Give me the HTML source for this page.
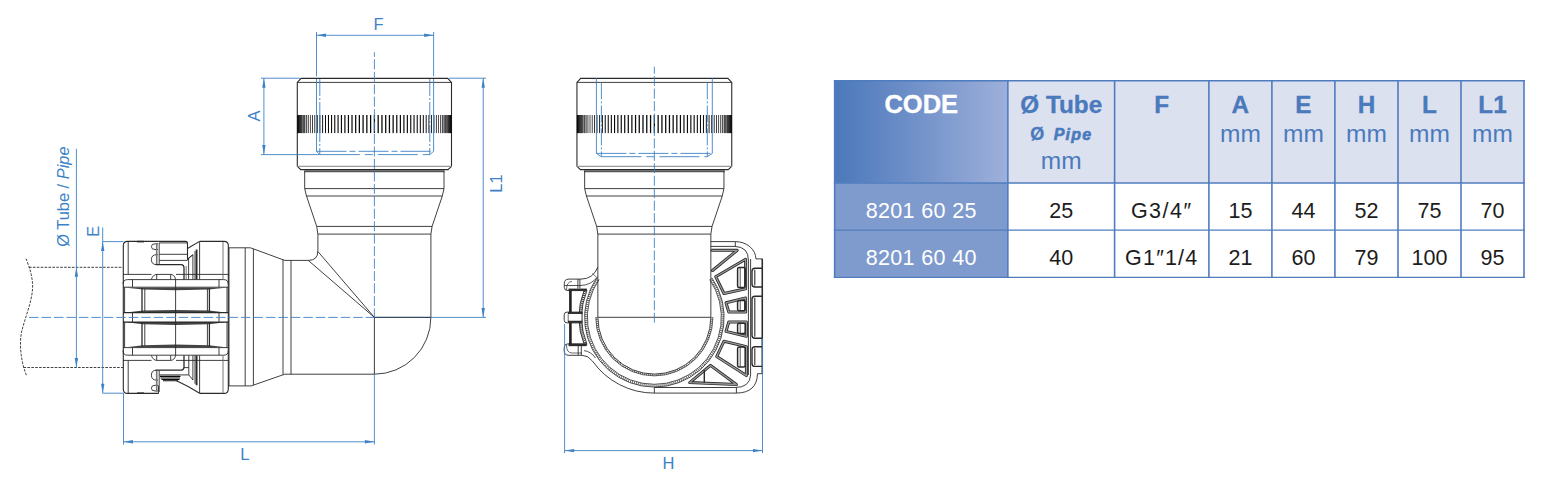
<!DOCTYPE html>
<html><head><meta charset="utf-8"><title>8201 60</title>
<style>
html,body{margin:0;padding:0;background:#fff}
body{width:1544px;height:482px;position:relative;overflow:hidden;font-family:"Liberation Sans",sans-serif}
.t{position:absolute;text-align:center;white-space:nowrap;line-height:28px;height:28px}
.h1{font-weight:bold;font-size:24.3px;color:#4a7abc;-webkit-text-stroke:0.35px}
.h2{font-weight:bold;font-size:16px;color:#4a7abc}
.h2 .o{font-size:18px;-webkit-text-stroke:0.3px #4a7abc}
.h2 .p{font-style:italic;letter-spacing:1.2px;margin-left:9.5px;-webkit-text-stroke:0.6px #4a7abc}
.mm{font-size:24.5px;color:#4a7abc}
.d{font-size:21.5px;color:#1c1c1c}
</style></head><body>
<svg width="830" height="482" viewBox="0 0 830 482" style="position:absolute;left:0;top:0">
<defs>
<linearGradient id="kl" x1="0" x2="1" y1="0" y2="0"><stop offset="0" stop-color="#000" stop-opacity="1"/><stop offset="0.2" stop-color="#000" stop-opacity="0.75"/><stop offset="1" stop-color="#000" stop-opacity="0"/></linearGradient>
<linearGradient id="kr" x1="1" x2="0" y1="0" y2="0"><stop offset="0" stop-color="#000" stop-opacity="1"/><stop offset="0.2" stop-color="#000" stop-opacity="0.75"/><stop offset="1" stop-color="#000" stop-opacity="0"/></linearGradient>
<g id="neck">
<path d="M304.7,171 V188.6 L306.5,196 L316.7,226.4 L317.9,234.1"/>
<path d="M444,171 V188.6 L442.3,196 L432.1,226.4 L430.9,234.1"/>
<line x1="304.7" y1="188.6" x2="444" y2="188.6"/>
<line x1="306.5" y1="196" x2="442.3" y2="196"/>
<line x1="316.7" y1="226.4" x2="432.1" y2="226.4"/>
<line x1="317.9" y1="234.1" x2="430.9" y2="234.1"/>
</g>
<g id="half">
<path d="M123.3,317.6 V245.6 Q123.3,241.4 127.5,241.4 H158.7 M199.6,241.4 H224.1 Q228.3,241.4 228.3,245.6 V317.6" stroke-width="1.1"/>
<line x1="128.2" y1="241.6" x2="128.2" y2="274.4"/>
<line x1="137" y1="241.6" x2="144" y2="241.6" stroke-width="1.6"/>
<path d="M123,274.4 H151.5 M176,274.4 H228.3"/>
<path d="M151.4,279.4 Q153,274.4 157,274.4 H170.5 Q174.5,274.4 175.6,279.4" />
<line x1="156.7" y1="274.4" x2="156.7" y2="279.4"/><line x1="170.7" y1="274.4" x2="170.7" y2="279.4"/>
<path d="M123,284.2 Q123,279.6 127.6,279.6 H223.7 Q228.3,279.6 228.3,284.2"/>
<line x1="132.5" y1="279.6" x2="132.5" y2="287.2"/><line x1="219" y1="279.6" x2="219" y2="287.2"/>
<line x1="123" y1="287.2" x2="228.3" y2="287.2"/>
<path d="M124,287.4 H227.5 L209,289.6 L175.6,290.3 L143,289.6 Z" fill="#444" stroke="none"/>
<path d="M124,312.8 H227.5 L209,310.6 L175.6,309.9 L143,310.6 Z" fill="#444" stroke="none"/>
<line x1="124.6" y1="287.2" x2="124.6" y2="313"/><line x1="227" y1="287.2" x2="227" y2="313"/>
<line x1="142" y1="288" x2="142" y2="312.5" stroke-width="1.3"/><line x1="144.8" y1="289" x2="144.8" y2="311"/>
<line x1="207.4" y1="289" x2="207.4" y2="311"/><line x1="209.4" y1="288" x2="209.4" y2="312.5" stroke-width="1.3"/>
<line x1="123" y1="312.6" x2="228.3" y2="312.6" stroke-width="1.2"/>
<line x1="132.5" y1="313" x2="132.5" y2="317.4"/><line x1="219" y1="313" x2="219" y2="317.4"/>
<line x1="175.6" y1="279.4" x2="175.6" y2="317.4"/>
<!-- slots -->
<path d="M158,243.8 H155 Q151.4,243.8 151.4,246.6 Q151.4,249.5 155,249.5 H158"/>
<path d="M158,254.7 H156.5 Q151.4,254.7 151.4,259.6 Q151.4,264.6 156.5,264.6"/>
<line x1="156.7" y1="243.5" x2="156.7" y2="264.5" stroke="#777" stroke-width="1.6"/><line x1="159.2" y1="242.8" x2="159.2" y2="264.5"/>
<path d="M155.6,264.6 H181 Q184,264.6 184,268 V279.4" stroke-width="1.3"/>
<line x1="192.9" y1="254.7" x2="192.9" y2="279.4"/>
<line x1="195" y1="251" x2="195" y2="279.4"/>
<line x1="196.6" y1="249.5" x2="196.6" y2="279.4" stroke-width="1.8"/>
<line x1="199.6" y1="241.6" x2="199.6" y2="279.4"/>
<line x1="223" y1="242" x2="223" y2="279.4" stroke="#666"/>
</g>
<path id="ah" d="M0,0 L-1.7,9.5 L1.7,9.5 Z" fill="#3d82c6" stroke="none"/>
</defs>
<g fill="none" stroke="#2a2a2a" stroke-width="0.9" stroke-linecap="butt">
<!-- ===== VIEW 1 ===== -->
<path d="M301.09999999999997,78.4 H447.7 L451.5,82.4 V166.3 L448.0,169.6 H300.79999999999995 L297.29999999999995,166.3 V82.4 Z" stroke-width="1.1"/><line x1="297.29999999999995" y1="82.4" x2="451.5" y2="82.4"/><line x1="297.29999999999995" y1="166.4" x2="451.5" y2="166.4" stroke="#999" stroke-width="1.4"/><line x1="304.29999999999995" y1="171.2" x2="444.5" y2="171.2" stroke="#555" stroke-width="2"/><g fill="#0a0a0a" stroke="none"><rect x="297.30" y="115.0" width="0.05" height="18.099999999999994"/><rect x="297.36" y="115.0" width="0.06" height="18.099999999999994"/><rect x="297.61" y="115.0" width="0.13" height="18.099999999999994"/><rect x="298.04" y="115.0" width="0.19" height="18.099999999999994"/><rect x="298.66" y="115.0" width="0.25" height="18.099999999999994"/><rect x="299.46" y="115.0" width="0.31" height="18.099999999999994"/><rect x="300.44" y="115.0" width="0.37" height="18.099999999999994"/><rect x="301.59" y="115.0" width="0.43" height="18.099999999999994"/><rect x="302.93" y="115.0" width="0.49" height="18.099999999999994"/><rect x="304.43" y="115.0" width="0.55" height="18.099999999999994"/><rect x="306.10" y="115.0" width="0.61" height="18.099999999999994"/><rect x="307.94" y="115.0" width="0.66" height="18.099999999999994"/><rect x="309.94" y="115.0" width="0.71" height="18.099999999999994"/><rect x="312.09" y="115.0" width="0.77" height="18.099999999999994"/><rect x="314.39" y="115.0" width="0.82" height="18.099999999999994"/><rect x="316.84" y="115.0" width="0.86" height="18.099999999999994"/><rect x="319.43" y="115.0" width="0.91" height="18.099999999999994"/><rect x="322.15" y="115.0" width="0.95" height="18.099999999999994"/><rect x="324.99" y="115.0" width="0.99" height="18.099999999999994"/><rect x="327.96" y="115.0" width="1.03" height="18.099999999999994"/><rect x="331.03" y="115.0" width="1.07" height="18.099999999999994"/><rect x="334.21" y="115.0" width="1.10" height="18.099999999999994"/><rect x="337.49" y="115.0" width="1.13" height="18.099999999999994"/><rect x="340.86" y="115.0" width="1.16" height="18.099999999999994"/><rect x="344.30" y="115.0" width="1.19" height="18.099999999999994"/><rect x="347.82" y="115.0" width="1.21" height="18.099999999999994"/><rect x="351.40" y="115.0" width="1.23" height="18.099999999999994"/><rect x="355.04" y="115.0" width="1.25" height="18.099999999999994"/><rect x="358.73" y="115.0" width="1.26" height="18.099999999999994"/><rect x="362.45" y="115.0" width="1.27" height="18.099999999999994"/><rect x="366.20" y="115.0" width="1.28" height="18.099999999999994"/><rect x="369.97" y="115.0" width="1.29" height="18.099999999999994"/><rect x="373.76" y="115.0" width="1.29" height="18.099999999999994"/><rect x="377.54" y="115.0" width="1.29" height="18.099999999999994"/><rect x="381.32" y="115.0" width="1.28" height="18.099999999999994"/><rect x="385.08" y="115.0" width="1.27" height="18.099999999999994"/><rect x="388.81" y="115.0" width="1.26" height="18.099999999999994"/><rect x="392.51" y="115.0" width="1.25" height="18.099999999999994"/><rect x="396.16" y="115.0" width="1.23" height="18.099999999999994"/><rect x="399.77" y="115.0" width="1.21" height="18.099999999999994"/><rect x="403.31" y="115.0" width="1.19" height="18.099999999999994"/><rect x="406.78" y="115.0" width="1.16" height="18.099999999999994"/><rect x="410.18" y="115.0" width="1.13" height="18.099999999999994"/><rect x="413.48" y="115.0" width="1.10" height="18.099999999999994"/><rect x="416.70" y="115.0" width="1.07" height="18.099999999999994"/><rect x="419.81" y="115.0" width="1.03" height="18.099999999999994"/><rect x="422.81" y="115.0" width="0.99" height="18.099999999999994"/><rect x="425.70" y="115.0" width="0.95" height="18.099999999999994"/><rect x="428.46" y="115.0" width="0.91" height="18.099999999999994"/><rect x="431.09" y="115.0" width="0.86" height="18.099999999999994"/><rect x="433.59" y="115.0" width="0.82" height="18.099999999999994"/><rect x="435.94" y="115.0" width="0.77" height="18.099999999999994"/><rect x="438.15" y="115.0" width="0.71" height="18.099999999999994"/><rect x="440.20" y="115.0" width="0.66" height="18.099999999999994"/><rect x="442.09" y="115.0" width="0.61" height="18.099999999999994"/><rect x="443.82" y="115.0" width="0.55" height="18.099999999999994"/><rect x="445.38" y="115.0" width="0.49" height="18.099999999999994"/><rect x="446.77" y="115.0" width="0.43" height="18.099999999999994"/><rect x="447.99" y="115.0" width="0.37" height="18.099999999999994"/><rect x="449.03" y="115.0" width="0.31" height="18.099999999999994"/><rect x="449.89" y="115.0" width="0.25" height="18.099999999999994"/><rect x="450.57" y="115.0" width="0.19" height="18.099999999999994"/><rect x="451.06" y="115.0" width="0.13" height="18.099999999999994"/><rect x="451.37" y="115.0" width="0.06" height="18.099999999999994"/><rect x="451.50" y="115.0" width="0.05" height="18.099999999999994"/><rect x="297.30" y="115.0" width="12" height="18.099999999999994" fill="url(#kl)"/><rect x="439.50" y="115.0" width="12" height="18.099999999999994" fill="url(#kr)"/></g>
<use href="#neck"/>
<!-- elbow body -->
<path d="M430.9,234.1 V317.4 A56.6,56.8 0 0 1 374.4,374.2 H284.8 L251.2,385.9 H228.3"/>
<path d="M317.9,234.1 V251 Q317.9,260.4 308.4,260.4 H284.8 L250.5,247.8 H228.3"/>
<line x1="317.9" y1="251.5" x2="374.4" y2="317.4"/>
<line x1="308.4" y1="260.5" x2="374.4" y2="317.4"/>
<line x1="374.4" y1="317.4" x2="374.4" y2="374.2"/>
<line x1="374.4" y1="317.4" x2="430.9" y2="317.4"/>
<line x1="245.2" y1="247.8" x2="245.2" y2="386"/>
<line x1="253.4" y1="249" x2="253.4" y2="385"/>
<line x1="283" y1="259.5" x2="283" y2="374.8"/>
<line x1="291" y1="260.4" x2="291" y2="374.2"/>
<line x1="229" y1="247.8" x2="229" y2="386" />
<!-- connector -->
<use href="#half"/>
<use href="#half" transform="translate(0,634.8) scale(1,-1)"/>

<path d="M158.7,241.4 H185.5 Q187.5,241.4 187.5,243.4 V259.4 L192.9,254.7" stroke-width="1.1"/>
<line x1="187.5" y1="248.5" x2="199.6" y2="241.4" stroke-width="1.1"/>
<line x1="159.2" y1="242.9" x2="187.5" y2="242.9"/>
<line x1="159.2" y1="254.3" x2="187.5" y2="254.3"/>
<line x1="159.2" y1="260.4" x2="187.5" y2="260.4"/>
<line x1="186.2" y1="266" x2="186.2" y2="279.4" stroke="#666"/>
<line x1="188.6" y1="259" x2="188.6" y2="279.4"/>


<g stroke="#0a0a0a" stroke-width="1.1"><path d="M159.7,375 H180.5 M160,376.5 H180.5 M160.5,378 H180 M161.5,379.5 H179.5 M163,380.8 H178"/></g>
<line x1="180.5" y1="374.9" x2="188.8" y2="374.9"/>
<line x1="184" y1="367.6" x2="188.8" y2="367.6"/>
<path d="M188.8,355.4 V374.9 L192.9,380"/>
<path d="M176.5,380.8 Q188,386 199.6,393.2" stroke-width="1.1"/>
<line x1="158.5" y1="385.5" x2="158.5" y2="393.2"/>

<!-- tube dashed -->
<g stroke-dasharray="2.6 1.3">
<line x1="29" y1="267.3" x2="123" y2="267.3"/>
<line x1="23.5" y1="367.5" x2="123" y2="367.5"/>
<path d="M26,258.7 C29,266 33,277 32.6,288 C32,302 24.5,319 21.6,332 C19,345 21,362 26.6,375.8"/>
</g>
</g>
<g fill="none" stroke="#2a2a2a" stroke-width="0.9">
<path d="M580.75,78.4 H727.95 L731.75,82.4 V166.3 L728.25,169.6 H580.45 L576.95,166.3 V82.4 Z" stroke-width="1.1"/><line x1="576.95" y1="82.4" x2="731.75" y2="82.4"/><line x1="576.95" y1="166.4" x2="731.75" y2="166.4" stroke="#999" stroke-width="1.4"/><line x1="583.95" y1="171.2" x2="724.75" y2="171.2" stroke="#555" stroke-width="2"/><g fill="#0a0a0a" stroke="none"><rect x="576.95" y="115.0" width="0.05" height="18.099999999999994"/><rect x="577.01" y="115.0" width="0.06" height="18.099999999999994"/><rect x="577.26" y="115.0" width="0.13" height="18.099999999999994"/><rect x="577.70" y="115.0" width="0.19" height="18.099999999999994"/><rect x="578.31" y="115.0" width="0.25" height="18.099999999999994"/><rect x="579.12" y="115.0" width="0.31" height="18.099999999999994"/><rect x="580.10" y="115.0" width="0.37" height="18.099999999999994"/><rect x="581.26" y="115.0" width="0.44" height="18.099999999999994"/><rect x="582.60" y="115.0" width="0.49" height="18.099999999999994"/><rect x="584.11" y="115.0" width="0.55" height="18.099999999999994"/><rect x="585.79" y="115.0" width="0.61" height="18.099999999999994"/><rect x="587.63" y="115.0" width="0.66" height="18.099999999999994"/><rect x="589.64" y="115.0" width="0.72" height="18.099999999999994"/><rect x="591.80" y="115.0" width="0.77" height="18.099999999999994"/><rect x="594.11" y="115.0" width="0.82" height="18.099999999999994"/><rect x="596.57" y="115.0" width="0.87" height="18.099999999999994"/><rect x="599.17" y="115.0" width="0.91" height="18.099999999999994"/><rect x="601.89" y="115.0" width="0.96" height="18.099999999999994"/><rect x="604.75" y="115.0" width="1.00" height="18.099999999999994"/><rect x="607.73" y="115.0" width="1.04" height="18.099999999999994"/><rect x="610.81" y="115.0" width="1.07" height="18.099999999999994"/><rect x="614.01" y="115.0" width="1.11" height="18.099999999999994"/><rect x="617.30" y="115.0" width="1.14" height="18.099999999999994"/><rect x="620.67" y="115.0" width="1.17" height="18.099999999999994"/><rect x="624.13" y="115.0" width="1.19" height="18.099999999999994"/><rect x="627.67" y="115.0" width="1.22" height="18.099999999999994"/><rect x="631.26" y="115.0" width="1.24" height="18.099999999999994"/><rect x="634.92" y="115.0" width="1.25" height="18.099999999999994"/><rect x="638.62" y="115.0" width="1.27" height="18.099999999999994"/><rect x="642.35" y="115.0" width="1.28" height="18.099999999999994"/><rect x="646.12" y="115.0" width="1.29" height="18.099999999999994"/><rect x="649.91" y="115.0" width="1.29" height="18.099999999999994"/><rect x="653.70" y="115.0" width="1.29" height="18.099999999999994"/><rect x="657.50" y="115.0" width="1.29" height="18.099999999999994"/><rect x="661.29" y="115.0" width="1.29" height="18.099999999999994"/><rect x="665.07" y="115.0" width="1.28" height="18.099999999999994"/><rect x="668.82" y="115.0" width="1.27" height="18.099999999999994"/><rect x="672.53" y="115.0" width="1.25" height="18.099999999999994"/><rect x="676.20" y="115.0" width="1.24" height="18.099999999999994"/><rect x="679.82" y="115.0" width="1.22" height="18.099999999999994"/><rect x="683.37" y="115.0" width="1.19" height="18.099999999999994"/><rect x="686.86" y="115.0" width="1.17" height="18.099999999999994"/><rect x="690.27" y="115.0" width="1.14" height="18.099999999999994"/><rect x="693.59" y="115.0" width="1.11" height="18.099999999999994"/><rect x="696.81" y="115.0" width="1.07" height="18.099999999999994"/><rect x="699.94" y="115.0" width="1.04" height="18.099999999999994"/><rect x="702.95" y="115.0" width="1.00" height="18.099999999999994"/><rect x="705.85" y="115.0" width="0.96" height="18.099999999999994"/><rect x="708.62" y="115.0" width="0.91" height="18.099999999999994"/><rect x="711.26" y="115.0" width="0.87" height="18.099999999999994"/><rect x="713.77" y="115.0" width="0.82" height="18.099999999999994"/><rect x="716.13" y="115.0" width="0.77" height="18.099999999999994"/><rect x="718.34" y="115.0" width="0.72" height="18.099999999999994"/><rect x="720.40" y="115.0" width="0.66" height="18.099999999999994"/><rect x="722.30" y="115.0" width="0.61" height="18.099999999999994"/><rect x="724.04" y="115.0" width="0.55" height="18.099999999999994"/><rect x="725.61" y="115.0" width="0.49" height="18.099999999999994"/><rect x="727.01" y="115.0" width="0.44" height="18.099999999999994"/><rect x="728.23" y="115.0" width="0.37" height="18.099999999999994"/><rect x="729.27" y="115.0" width="0.31" height="18.099999999999994"/><rect x="730.13" y="115.0" width="0.25" height="18.099999999999994"/><rect x="730.81" y="115.0" width="0.19" height="18.099999999999994"/><rect x="731.31" y="115.0" width="0.13" height="18.099999999999994"/><rect x="731.62" y="115.0" width="0.06" height="18.099999999999994"/><rect x="731.75" y="115.0" width="0.05" height="18.099999999999994"/><rect x="576.95" y="115.0" width="12" height="18.099999999999994" fill="url(#kl)"/><rect x="719.75" y="115.0" width="12" height="18.099999999999994" fill="url(#kr)"/></g>
<use href="#neck" transform="translate(279.95,0)"/>
<path d="M597.85,234.1 V317.3 A56.5,56.8 0 0 0 710.85,317.3 V234.1"/>
<line x1="597.85" y1="317.3" x2="710.85" y2="317.3"/>
<path d="M712.05,317.30 A57.7,57.7 0 0 1 596.65,317.30" stroke="#555" stroke-width="1.6" stroke-dasharray="1 1"/>
<path d="M712.95,317.30 A58.6,58.6 0 0 1 595.75,317.30" stroke-width="0.7"/>
<path d="M710.85,278.75 A68.4,68.4 0 1 1 597.85,278.75" stroke="#555" stroke-width="2.4" stroke-dasharray="0.9 1.1"/>
<path d="M709.69,279.54 A67.0,67.0 0 1 1 599.01,279.54" stroke-width="0.8"/>
<path d="M712.01,277.96 A69.8,69.8 0 1 1 596.69,277.96" stroke-width="0.8"/>
<path d="M585.73,345.00 A74,74 0 0 1 585.57,290.00" stroke="#333" stroke-width="2.6" stroke-dasharray="1 1"/>
<path d="M587.03,344.48 A72.6,72.6 0 0 1 586.87,290.52" />
<path d="M584.52,345.49 A75.3,75.3 0 0 1 584.36,289.52" />
<path d="M654.35,393.10 A75.8,75.8 0 0 1 592.41,361.00" />
<path d="M597.85,267.1 Q593,279.1 581,279.1 H569 Q564.3,279.1 564.3,283.5 V287.5 Q564.3,290.6 568,290.6 H586.9"/>
<path d="M597.85,276.5 Q591,285.5 580,285.5 H564.5" stroke-width="0.8"/>
<path d="M592.6,273.4 L596.4,277.2" stroke-width="0.7"/>
<path d="M566.5,290 Q566.5,281.5 572,281.5" stroke-width="0.7"/>
<line x1="577.9" y1="279.1" x2="577.9" y2="288.5"/><line x1="579.9" y1="279.1" x2="579.9" y2="288.5"/>
<line x1="568.5" y1="289.7" x2="586.9" y2="289.7" stroke-width="2.2"/>
<path d="M582,312.1 H567 Q564.2,312.1 564.2,314.8 V320.2 Q564.2,322.9 567,322.9 H582 Z" fill="#fff"/>
<line x1="568" y1="313" x2="582.3" y2="313" stroke-width="1.9"/><line x1="568" y1="321.8" x2="582" y2="321.8" stroke-width="2.1"/>
<line x1="568.2" y1="313" x2="568.2" y2="322" stroke-width="0.7"/>
<path d="M586.7,343.8 H568 Q564.2,343.8 564.2,347.5 V351 Q564.2,355.3 569,355.3 H582 Q588,355.3 592.41,361.00"/>
<path d="M584,350.6 Q591,351.5 595.5,358" stroke-width="0.8"/>
<path d="M566.5,345 Q566.5,353 572,353 H582" stroke-width="0.7"/>
<line x1="568.5" y1="345" x2="586.7" y2="345" stroke-width="2.3"/>
<line x1="578.2" y1="346" x2="578.2" y2="355.3"/><line x1="581.3" y1="346" x2="581.3" y2="355.3"/>
<path d="M570.4,290.6 V312.1 M570.4,322.9 V344" stroke-width="2.6" stroke="#222"/>
<path d="M710.85,241.6 H735.3 A20.6,17.3 0 0 1 755.9,258.9 H762.4 V373.7 H757.5 Q757,392.8 736.4,393.1 H654.35"/>
<path d="M710.85,246.4 H735 Q748.4,247 748.4,260 V375 "/>
<path d="M750.6,259 V375 Q750,387.5 735,387.5 H654.35"/>
<line x1="735.3" y1="241.6" x2="735.3" y2="246.4"/><line x1="736.4" y1="387.5" x2="736.4" y2="393.1"/><line x1="654.35" y1="387.5" x2="654.35" y2="393.1"/>
<path d="M712,250.3 H737.2 L712.5,270.5" stroke="#2a2a2a" stroke-width="3" stroke-linejoin="round" stroke-linecap="round"/>
<path d="M712,250.3 H737.2 L712.5,270.5" stroke="#9a9a9a" stroke-width="1.3" stroke-linejoin="round" stroke-linecap="round"/>
<path d="M715.7,276.7 L745.6,259.2 V288.8 L724,293.5 Z" stroke="#2a2a2a" stroke-width="3" stroke-linejoin="round" stroke-linecap="round"/>
<path d="M715.7,276.7 L745.6,259.2 V288.8 L724,293.5 Z" stroke="#9a9a9a" stroke-width="1.3" stroke-linejoin="round" stroke-linecap="round"/>
<path d="M726,302.8 L745.6,298 V312 H728.8 Z" stroke="#2a2a2a" stroke-width="3" stroke-linejoin="round" stroke-linecap="round"/>
<path d="M726,302.8 L745.6,298 V312 H728.8 Z" stroke="#9a9a9a" stroke-width="1.3" stroke-linejoin="round" stroke-linecap="round"/>
<path d="M728.8,322 H746.4 V336.3 L726,331.4 Z" stroke="#2a2a2a" stroke-width="3" stroke-linejoin="round" stroke-linecap="round"/>
<path d="M728.8,322 H746.4 V336.3 L726,331.4 Z" stroke="#9a9a9a" stroke-width="1.3" stroke-linejoin="round" stroke-linecap="round"/>
<path d="M724,341.2 L746.4,346.6 V375.6 L716.7,356.6 Z" stroke="#2a2a2a" stroke-width="3" stroke-linejoin="round" stroke-linecap="round"/>
<path d="M724,341.2 L746.4,346.6 V375.6 L716.7,356.6 Z" stroke="#9a9a9a" stroke-width="1.3" stroke-linejoin="round" stroke-linecap="round"/>
<path d="M710.5,365.4 L736.4,384.5 L689.7,382.6 Z" stroke="#2a2a2a" stroke-width="3" stroke-linejoin="round" stroke-linecap="round"/>
<path d="M710.5,365.4 L736.4,384.5 L689.7,382.6 Z" stroke="#9a9a9a" stroke-width="1.3" stroke-linejoin="round" stroke-linecap="round"/>
<line x1="704.3" y1="370" x2="704.3" y2="382.6" stroke-width="1.4"/>
<rect x="737.6" y="267.5" width="7.6" height="20.0" rx="1.5" stroke-width="1.5"/>
<path d="M740.2,267.5 V287.5" stroke-width="0.8"/>
<rect x="737.6" y="300.5" width="7.6" height="10.300000000000011" rx="1.5" stroke-width="1.5"/>
<path d="M740.2,300.5 V310.8" stroke-width="0.8"/>
<rect x="737.6" y="323.2" width="7.6" height="10.300000000000011" rx="1.5" stroke-width="1.5"/>
<path d="M740.2,323.2 V333.5" stroke-width="0.8"/>
<rect x="737.6" y="347" width="7.6" height="20" rx="1.5" stroke-width="1.5"/>
<path d="M740.2,347 V367" stroke-width="0.8"/>
<path d="M762.4,268.3 H755 Q752,268.3 752,271.3 V284 Q752,287 755,287 H762.4" stroke-width="1.4"/>
<path d="M754.8,269.8 V285.5" stroke-width="1.1"/>
<path d="M762.4,296.3 H755 Q752,296.3 752,299.3 V335.3 Q752,338.3 755,338.3 H762.4" stroke-width="1.4"/>
<path d="M754.8,297.8 V336.8" stroke-width="1.1"/>
<path d="M762.4,346.7 H755 Q752,346.7 752,349.7 V363.4 Q752,366.4 755,366.4 H762.4" stroke-width="1.4"/>
<path d="M754.8,348.2 V364.9" stroke-width="1.1"/>
<path d="M762.3,258.9 V373.7" stroke-width="1.5"/>
</g>

<g fill="none" stroke="#3d82c6" stroke-width="0.9">
<line x1="596.4" y1="78.2" x2="596.4" y2="153.4"/><line x1="712.3" y1="78.2" x2="712.3" y2="153.4"/>
<line x1="601.4" y1="82.4" x2="601.4" y2="156.7" stroke-dasharray="17 2 2 2"/><line x1="707.3" y1="82.4" x2="707.3" y2="156.7" stroke-dasharray="17 2 2 2"/>
<line x1="596.4" y1="153.4" x2="712.3" y2="153.4" stroke-dasharray="30 3 6 3"/>
<line x1="601.4" y1="156.7" x2="707.3" y2="156.7" stroke-dasharray="40 5 8 5"/>
<line x1="596.4" y1="153.4" x2="601.4" y2="156.7"/><line x1="712.3" y1="153.4" x2="707.3" y2="156.7"/>
<line x1="654.35" y1="66.7" x2="654.35" y2="322.7" stroke-dasharray="10 2.45" stroke-dashoffset="3"/>
<line x1="564.6" y1="324" x2="564.6" y2="453.2"/><line x1="762.5" y1="338.4" x2="762.5" y2="453.2"/>
<line x1="564.6" y1="450.6" x2="762.5" y2="450.6"/>
<use href="#ah" transform="translate(564.6,450.6) rotate(-90)"/><use href="#ah" transform="translate(762.5,450.6) rotate(90)"/>
</g>

<!-- blue dims view 1 -->
<g fill="none" stroke="#3d82c6" stroke-width="0.9">
<path d="M316.5,32 V76.3 M316.5,79 V151.3 M433.6,32 V76.3 M433.6,79 V151.3"/>
<line x1="316.5" y1="35.3" x2="433.6" y2="35.3"/>
<use href="#ah" transform="translate(316.5,35.3) rotate(-90)"/><use href="#ah" transform="translate(433.6,35.3) rotate(90)"/>
<g stroke-dasharray="17 2 2 2">
<line x1="319.8" y1="79" x2="319.8" y2="154.6"/><line x1="429.8" y1="79" x2="429.8" y2="154.6"/>
<line x1="316.5" y1="151.3" x2="433.6" y2="151.3" stroke-dasharray="30 3 6 3"/>
<line x1="319.8" y1="154.6" x2="429.8" y2="154.6" stroke-dasharray="40 5 8 5"/>
</g>
<line x1="316.5" y1="151.3" x2="319.8" y2="154.6"/><line x1="433.6" y1="151.3" x2="429.8" y2="154.6"/>
<!-- centerlines -->
<line x1="374.4" y1="52.3" x2="374.4" y2="317.4" stroke-dasharray="10 2.45" stroke-dashoffset="5.4"/>
<line x1="374.4" y1="374.2" x2="374.4" y2="444.5"/>
<line x1="29" y1="317.4" x2="374.4" y2="317.4" stroke-dasharray="9.5 2.97"/>
<line x1="374.4" y1="317.4" x2="486" y2="317.4"/>
<!-- A -->
<line x1="261" y1="78.2" x2="300" y2="78.2"/><line x1="261" y1="154.6" x2="319.8" y2="154.6"/>
<line x1="263.9" y1="78.2" x2="263.9" y2="154.6"/>
<use href="#ah" transform="translate(263.9,78.2)"/><use href="#ah" transform="translate(263.9,154.6) rotate(180)"/>
<!-- L1 -->
<line x1="449" y1="78.2" x2="486" y2="78.2"/>
<line x1="483.2" y1="78.2" x2="483.2" y2="317.4"/>
<use href="#ah" transform="translate(483.2,78.2)"/><use href="#ah" transform="translate(483.2,317.4) rotate(180)"/>
<!-- L -->
<line x1="123.5" y1="393" x2="123.5" y2="444.5"/>
<line x1="123.5" y1="441.8" x2="374.4" y2="441.8"/>
<use href="#ah" transform="translate(123.5,441.8) rotate(-90)"/><use href="#ah" transform="translate(374.4,441.8) rotate(90)"/>
<!-- E -->
<line x1="102.7" y1="227.5" x2="102.7" y2="393.2"/>
<line x1="102.7" y1="241.6" x2="123.5" y2="241.6"/><line x1="102.7" y1="393.2" x2="123.5" y2="393.2"/>
<use href="#ah" transform="translate(102.7,241.6)"/><use href="#ah" transform="translate(102.7,393.2) rotate(180)"/>
<!-- O tube -->
<line x1="76.4" y1="148.7" x2="76.4" y2="367.5"/>
<use href="#ah" transform="translate(76.4,267.3)"/><use href="#ah" transform="translate(76.4,367.5) rotate(180)"/>
</g>
<line x1="374.4" y1="317.4" x2="430.9" y2="317.4" stroke="#2a2a2a" stroke-width="0.9" opacity="0.75"/>
<g fill="#3d82c6" font-family="'Liberation Sans',sans-serif" font-size="16.5" text-anchor="middle">
<text x="378.6" y="30">F</text>
<text x="244.9" y="460">L</text>
<text x="668.5" y="469">H</text>
<text transform="translate(260,116) rotate(-90)" >A</text>
<text transform="translate(501.8,183.6) rotate(-90)">L1</text>
<text transform="translate(99,231.2) rotate(-90)" font-size="16.3">E</text>
<text transform="translate(69.3,196.6) rotate(-90)" font-size="16.4">Ø Tube / <tspan font-style="italic">Pipe</tspan></text>
</g>
</svg>
<svg width="724" height="300" viewBox="820 0 724 300" style="position:absolute;left:820px;top:0"><defs><linearGradient id="cg" x1="0" x2="1" y1="0" y2="0"><stop offset="0" stop-color="#4b79bb"/><stop offset="0.4" stop-color="#6b8dc7"/><stop offset="1" stop-color="#9eb0da"/></linearGradient></defs><rect x="834.65" y="80.7" width="173.20000000000005" height="102.2" fill="url(#cg)"/><rect x="834.65" y="182.9" width="173.20000000000005" height="94.45000000000002" fill="#7f9bcd"/><rect x="1007.85" y="80.7" width="516.15" height="102.2" fill="#dce1f0"/><g stroke="#4f7cbe" stroke-width="1.6" fill="none"><line x1="834.65" y1="80.0" x2="834.65" y2="278.05"/><line x1="1007.85" y1="80.0" x2="1007.85" y2="278.05"/><line x1="1114.6" y1="80.0" x2="1114.6" y2="278.05"/><line x1="1208.9" y1="80.0" x2="1208.9" y2="278.05"/><line x1="1271.9" y1="80.0" x2="1271.9" y2="278.05"/><line x1="1334.9" y1="80.0" x2="1334.9" y2="278.05"/><line x1="1398.0" y1="80.0" x2="1398.0" y2="278.05"/><line x1="1461.0" y1="80.0" x2="1461.0" y2="278.05"/><line x1="1524.0" y1="80.0" x2="1524.0" y2="278.05"/><line x1="833.85" y1="80.7" x2="1524.8" y2="80.7" stroke-width="1.45"/><line x1="833.85" y1="182.9" x2="1524.8" y2="182.9" stroke-width="1.45"/><line x1="833.85" y1="230.1" x2="1524.8" y2="230.1" stroke-width="1.45"/><line x1="833.85" y1="277.35" x2="1524.8" y2="277.35" stroke-width="1.45"/></g></svg>
<div class="t h1" style="left:834.65px;width:173.20000000000005px;top:89.6px;color:#fff;font-size:25.5px">CODE</div>
<div class="t h1" style="left:1007.85px;width:106.74999999999989px;top:90.9px;">Ø Tube</div>
<div class="t h2" style="left:1007.85px;width:106.74999999999989px;top:120.2px;"><span class="o">Ø</span><span class="p">Pipe</span></div>
<div class="t mm" style="left:1007.85px;width:106.74999999999989px;top:146.5px;">mm</div>
<div class="t h1" style="left:1114.6px;width:94.30000000000018px;top:91.1px;">F</div>
<div class="t h1" style="left:1208.9px;width:63.0px;top:91.1px;">A</div>
<div class="t mm" style="left:1208.9px;width:63.0px;top:119.5px;">mm</div>
<div class="t h1" style="left:1271.9px;width:63.0px;top:91.1px;">E</div>
<div class="t mm" style="left:1271.9px;width:63.0px;top:119.5px;">mm</div>
<div class="t h1" style="left:1334.9px;width:63.09999999999991px;top:91.1px;">H</div>
<div class="t mm" style="left:1334.9px;width:63.09999999999991px;top:119.5px;">mm</div>
<div class="t h1" style="left:1398.0px;width:63.0px;top:91.1px;">L</div>
<div class="t mm" style="left:1398.0px;width:63.0px;top:119.5px;">mm</div>
<div class="t h1" style="left:1461.0px;width:63.0px;top:91.1px;">L1</div>
<div class="t mm" style="left:1461.0px;width:63.0px;top:119.5px;">mm</div>
<div class="t d" style="left:834.65px;width:173.20000000000005px;top:196.9px;color:#fff;letter-spacing:0.35px;">8201 60 25</div>
<div class="t d" style="left:1007.85px;width:106.74999999999989px;top:196.9px;">25</div>
<div class="t d" style="left:1114.6px;width:94.30000000000018px;top:196.9px;letter-spacing:1.5px;">G3/4″</div>
<div class="t d" style="left:1208.9px;width:63.0px;top:196.9px;">15</div>
<div class="t d" style="left:1271.9px;width:63.0px;top:196.9px;">44</div>
<div class="t d" style="left:1334.9px;width:63.09999999999991px;top:196.9px;">52</div>
<div class="t d" style="left:1398.0px;width:63.0px;top:196.9px;">75</div>
<div class="t d" style="left:1461.0px;width:63.0px;top:196.9px;">70</div>
<div class="t d" style="left:834.65px;width:173.20000000000005px;top:243.5px;color:#fff;letter-spacing:0.35px;">8201 60 40</div>
<div class="t d" style="left:1007.85px;width:106.74999999999989px;top:243.5px;">40</div>
<div class="t d" style="left:1114.6px;width:94.30000000000018px;top:243.5px;letter-spacing:1.2px;">G1″1/4</div>
<div class="t d" style="left:1208.9px;width:63.0px;top:243.5px;">21</div>
<div class="t d" style="left:1271.9px;width:63.0px;top:243.5px;">60</div>
<div class="t d" style="left:1334.9px;width:63.09999999999991px;top:243.5px;">79</div>
<div class="t d" style="left:1398.0px;width:63.0px;top:243.5px;">100</div>
<div class="t d" style="left:1461.0px;width:63.0px;top:243.5px;">95</div>
</body></html>
